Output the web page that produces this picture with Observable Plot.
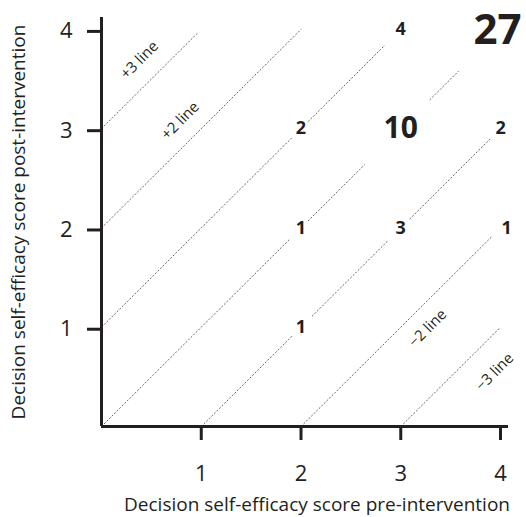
<!DOCTYPE html>
<html>
<head>
<meta charset="utf-8">
<script src="https://cdn.jsdelivr.net/npm/d3@7"></script>
<script src="https://cdn.jsdelivr.net/npm/@observablehq/plot@0.6"></script>
<style>
  html, body { margin: 0; padding: 0; background: #fff; }
</style>
</head>
<body>
<div id="chart"></div>
<script>
// Reference (diagonal) lines: post = pre + k, drawn as pieces between label gaps
const segK     = [3,    2,    1,    1,    0,    0,    0,    -1,   -1,   -1,   -2,   -3];
const segStart = [0,    0,    0,    2.07, 0,    2.07, 3.29, 1,    2.11, 3.09, 2,    3];
const segEnd   = [0.97, 2.0,  1.91, 2.84, 1.89, 2.64, 3.58, 1.92, 2.87, 3.91, 3.92, 3.99];

// Counts of participants at each (pre, post) score
const preScore  = [2, 2, 3, 4, 3, 4, 2, 3, 4];
const postScore = [1, 2, 2, 2, 3, 3, 3, 4, 4];
const counts    = [1, 1, 3, 1, 10, 2, 2, 4, 27];

// Line labels
const lineNames = ["+3 line", "+2 line", "\u22122 line", "\u22123 line"];
const lineK     = [3, 2, -2, -3];
const lineAt    = [0.535, 0.935, 3.13, 3.745];

const ticks = [1, 2, 3, 4];
const xTitle = "Decision self-efficacy score pre-intervention";
const yTitle = "Decision self-efficacy score post-intervention";

const segs = segK.map((k, i) => ({x1: segStart[i], y1: segStart[i] + k, x2: segEnd[i], y2: segEnd[i] + k}));
const cells = counts.map((c, i) => ({pre: preScore[i], post: postScore[i], n: c}));
const lbls = lineNames.map((t, i) => ({t, x: lineAt[i], y: lineAt[i] + lineK[i], k: lineK[i]}));
const perp = {"3": 15.5, "2": 14.5, "-2": 14, "-3": 19.5};

const fontSizeFor = n => n >= 20 ? 42 : n >= 10 ? 30 : 18;
const isRightEdge = d => d.pre === 4 && (d.post === 2 || d.post === 4);

const chart = Plot.plot({
  width: 526,
  height: 517,
  marginLeft: 101,
  marginRight: 18,
  marginTop: 17,
  marginBottom: 91,
  style: {fontFamily: "'Open Sans', sans-serif", background: "#fff", color: "#231f20"},
  x: {domain: [0, 4.08]},
  y: {domain: [0, 4.12]},
  marks: [
    Plot.link(segs, {x1: "x1", y1: "y1", x2: "x2", y2: "y2", stroke: "#666", strokeWidth: 1, strokeDasharray: "2,1.6"}),
    Plot.axisX({ticks, tickFormat: d3.format("d"), tickSize: 14, strokeWidth: 3, tickPadding: 25, fontSize: 22, label: null}),
    Plot.axisY({ticks, tickFormat: d3.format("d"), tickSize: 14, strokeWidth: 3, tickPadding: 15, fontSize: 22, dy: 2, label: null}),
    Plot.ruleY([0], {strokeWidth: 3}),
    Plot.ruleX([0], {strokeWidth: 3}),
    ...lbls.map(d => Plot.text([d], {
      x: "x", y: "y", text: "t", rotate: -45, fontSize: 15,
      dx: d.k > 0 ? -perp[d.k] : perp[d.k], dy: d.k > 0 ? -perp[d.k] : perp[d.k]
    })),
    Plot.text(cells.filter(d => !isRightEdge(d)), {
      x: "pre", y: "post", text: "n", fontWeight: "bold", fontSize: d => fontSizeFor(d.n), lineAnchor: "middle"
    }),
    Plot.text(cells.filter(d => d.pre === 4 && d.post === 2), {
      x: "pre", y: "post", text: "n", fontWeight: "bold", fontSize: d => fontSizeFor(d.n), lineAnchor: "middle", dx: 6
    }),
    Plot.text(cells.filter(d => d.pre === 4 && d.post === 4), {
      x: "pre", y: "post", text: "n", fontWeight: "bold", fontSize: d => fontSizeFor(d.n), lineAnchor: "middle", dx: -3, dy: 1
    }),
    Plot.text([xTitle], {frameAnchor: "bottom", textAnchor: "middle", dx: 12, dy: 78, fontSize: 19, lineAnchor: "middle"}),
    Plot.text([yTitle], {frameAnchor: "left", textAnchor: "middle", rotate: -90, dx: -83, fontSize: 19, lineAnchor: "middle"})
  ]
});
document.getElementById("chart").appendChild(chart);
</script>
</body>
</html>
